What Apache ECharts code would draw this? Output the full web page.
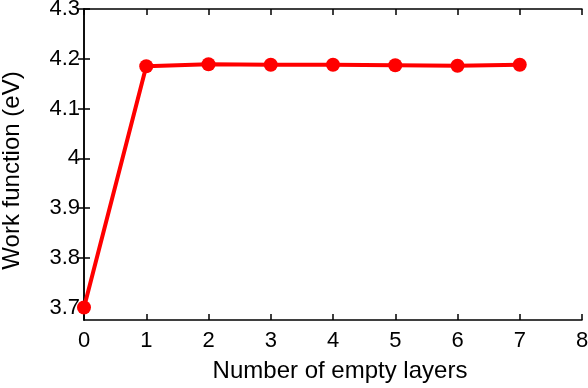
<!DOCTYPE html>
<html><head><meta charset="utf-8">
<script src="https://cdn.jsdelivr.net/npm/echarts@6/dist/echarts.min.js"></script>
<style>html,body{margin:0;padding:0;background:#fff}#c{width:588px;height:388px}</style>
</head><body><div id="c"></div>
<script>
const layers = [0, 1, 2, 3, 4, 5, 6, 7];
const workFunction = [3.70, 4.185, 4.189, 4.188, 4.188, 4.187, 4.186, 4.188];
const xTicks = [0, 1, 2, 3, 4, 5, 6, 7, 8];
const yTicks = [3.7, 3.8, 3.9, 4.0, 4.1, 4.2, 4.3];
const yLabels = ['3.7', '3.8', '3.9', '4', '4.1', '4.2', '4.3'];

const chart = echarts.init(document.getElementById('c'));
const font = 'Liberation Sans, Arial, sans-serif';
const axLine = {show: true, lineStyle: {color: '#000', width: 1.5}};
const tick = (vals) => ({show: true, inside: true, length: 6, customValues: vals, lineStyle: {color: '#000', width: 1.5}});
chart.setOption({
  animation: false,
  grid: {left: 84, right: 6, top: 9, bottom: 68, containLabel: false, outerBoundsMode: 'none'},
  xAxis: [{
    type: 'value', min: 0, max: 8, position: 'bottom',
    axisLine: axLine, axisTick: tick(xTicks), splitLine: {show: false},
    axisLabel: {customValues: xTicks, color: '#000', fontFamily: font, fontSize: 22, margin: 10},
    name: 'Number of empty layers', nameLocation: 'middle', nameGap: 39,
    nameTextStyle: {color: '#000', fontFamily: font, fontSize: 24, padding: [0, 0, 0, 14]}
  }, {
    type: 'value', min: 0, max: 8, position: 'top',
    axisLine: axLine, axisTick: tick(xTicks), splitLine: {show: false},
    axisLabel: {show: false}
  }],
  yAxis: [{
    type: 'value', min: 3.675, max: 4.3, position: 'left',
    axisLine: axLine, axisTick: tick(yTicks), splitLine: {show: false},
    axisLabel: {customValues: yTicks, color: '#000', fontFamily: font, fontSize: 22, margin: 4,
      formatter: v => yLabels[yTicks.findIndex(t => Math.abs(t - v) < 1e-6)] ?? ''},
    name: 'Work function (eV)', nameLocation: 'middle', nameGap: 60, nameRotate: 90,
    nameTextStyle: {color: '#000', fontFamily: font, fontSize: 24, padding: [0, 12, 0, 0]}
  }, {
    type: 'value', min: 3.675, max: 4.3, position: 'right',
    axisLine: axLine, axisTick: tick(yTicks), splitLine: {show: false},
    axisLabel: {show: false}
  }],
  series: [{
    type: 'line',
    data: layers.map((x, i) => [x, workFunction[i]]),
    symbol: 'circle', symbolSize: 14,
    itemStyle: {color: '#ff0000'},
    lineStyle: {color: '#ff0000', width: 4},
    clip: false
  }]
});
</script></body></html>
